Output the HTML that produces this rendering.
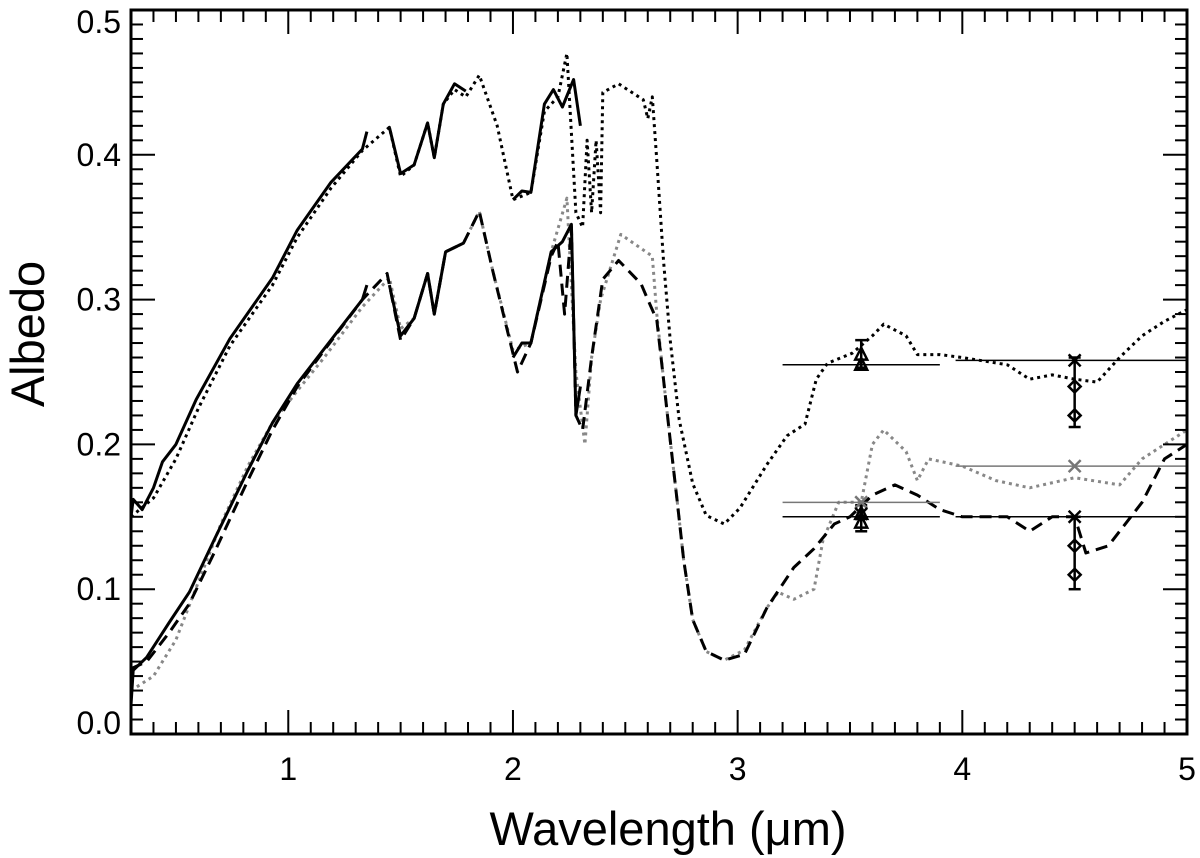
<!DOCTYPE html>
<html><head><meta charset="utf-8"><style>
body{margin:0;background:#fff}
svg{display:block;font-family:"Liberation Sans",Helvetica,sans-serif}
</style></head><body>
<svg id="chart" width="1200" height="858" viewBox="0 0 1200 858">
<g id="marks"></g>
<g id="axes"></g>
<text x="668" y="845" text-anchor="middle" font-size="47">Wavelength (μm)</text>
<text transform="translate(44,334) rotate(-90)" text-anchor="middle" font-size="47">Albedo</text>
</svg>
<script>
const xTicks=[1,2,3,4,5];
const yTicks=[0.0,0.1,0.2,0.3,0.4,0.5];
const upperObs=[[0.3,0.15],[0.31,0.162],[0.35,0.155],[0.4,0.17],[0.44,0.188],[0.5,0.2],[0.59,0.231],[0.74,0.273],[0.93,0.315],[1.04,0.348],[1.19,0.381],[1.33,0.404],[1.35,0.416],null,[1.45,0.419],[1.5,0.387],[1.56,0.393],[1.62,0.422],[1.65,0.398],[1.69,0.435],[1.74,0.449],[1.79,0.444],null,[2.0,0.369],[2.04,0.375],[2.08,0.374],[2.14,0.435],[2.18,0.445],[2.22,0.433],[2.27,0.452],[2.3,0.42]];
const upperModel=[[0.3,0.15],[0.4,0.163],[0.5,0.19],[0.6,0.225],[0.74,0.268],[0.93,0.31],[1.04,0.343],[1.19,0.377],[1.33,0.403],[1.45,0.419],[1.5,0.385],[1.56,0.393],[1.62,0.422],[1.65,0.398],[1.69,0.435],[1.74,0.445],[1.79,0.44],[1.85,0.455],[1.93,0.42],[2.0,0.369],[2.08,0.374],[2.14,0.43],[2.2,0.44],[2.24,0.47],[2.28,0.36],[2.31,0.35],[2.33,0.41],[2.35,0.36],[2.37,0.41],[2.39,0.36],[2.4,0.443],[2.47,0.449],[2.58,0.438],[2.6,0.425],[2.62,0.44],[2.64,0.396],[2.67,0.327],[2.7,0.272],[2.74,0.217],[2.8,0.173],[2.86,0.151],[2.94,0.145],[3.01,0.156],[3.13,0.186],[3.22,0.206],[3.3,0.214],[3.35,0.245],[3.4,0.256],[3.51,0.263],[3.6,0.275],[3.65,0.283],[3.75,0.275],[3.8,0.262],[3.9,0.262],[4.0,0.26],[4.2,0.255],[4.3,0.245],[4.4,0.248],[4.5,0.245],[4.6,0.243],[4.7,0.26],[4.8,0.275],[4.9,0.285],[5.0,0.293]];
const lowerObs=[[0.3,0.02],[0.31,0.044],[0.37,0.053],[0.47,0.077],[0.56,0.098],[0.67,0.134],[0.82,0.182],[0.93,0.215],[1.04,0.242],[1.16,0.266],[1.33,0.3],[1.35,0.31],null,[1.45,0.31],[1.5,0.275],[1.56,0.287],[1.62,0.318],[1.65,0.29],[1.7,0.333],[1.78,0.339],null,[2.0,0.26],[2.04,0.27],[2.08,0.27],[2.17,0.333],[2.22,0.34],[2.26,0.352],[2.28,0.22],[2.3,0.24]];
const lowerDashed=[[0.3,0.045],[0.37,0.05],[0.47,0.07],[0.56,0.09],[0.67,0.125],[0.82,0.175],[0.93,0.21],[1.04,0.24],[1.16,0.265],[1.33,0.3],[1.44,0.318],[1.5,0.272],[1.56,0.287],[1.62,0.318],[1.65,0.29],[1.7,0.333],[1.78,0.339],[1.85,0.361],[1.91,0.32],[2.02,0.25],[2.08,0.27],[2.17,0.33],[2.2,0.34],[2.23,0.29],[2.26,0.35],[2.28,0.22],[2.31,0.21],[2.35,0.26],[2.4,0.314],[2.47,0.327],[2.57,0.311],[2.6,0.3],[2.64,0.286],[2.67,0.245],[2.7,0.203],[2.73,0.162],[2.76,0.12],[2.8,0.079],[2.86,0.057],[2.94,0.051],[3.03,0.055],[3.13,0.087],[3.25,0.115],[3.34,0.128],[3.43,0.145],[3.5,0.15],[3.6,0.165],[3.7,0.172],[3.8,0.165],[3.9,0.155],[4.0,0.15],[4.2,0.15],[4.3,0.14],[4.4,0.15],[4.5,0.15],[4.55,0.125],[4.65,0.13],[4.8,0.16],[4.9,0.19],[5.0,0.2]];
const lowerGray=[[0.3,0.03],[0.4,0.04],[0.5,0.065],[0.6,0.105],[0.7,0.145],[0.82,0.185],[0.93,0.215],[1.04,0.237],[1.16,0.26],[1.33,0.295],[1.45,0.315],[1.5,0.28],[1.56,0.287],[1.62,0.318],[1.65,0.29],[1.7,0.333],[1.78,0.339],[1.85,0.361],[1.91,0.32],[2.0,0.265],[2.08,0.27],[2.17,0.333],[2.24,0.37],[2.28,0.25],[2.32,0.2],[2.35,0.26],[2.39,0.3],[2.48,0.345],[2.62,0.33],[2.64,0.29],[2.67,0.245],[2.7,0.203],[2.73,0.162],[2.76,0.12],[2.8,0.079],[2.86,0.057],[2.94,0.051],[3.03,0.058],[3.13,0.087],[3.18,0.098],[3.25,0.093],[3.34,0.1],[3.38,0.134],[3.45,0.16],[3.55,0.16],[3.6,0.2],[3.65,0.21],[3.75,0.195],[3.8,0.175],[3.85,0.19],[4.0,0.185],[4.15,0.175],[4.3,0.17],[4.5,0.177],[4.7,0.172],[4.8,0.19],[5.0,0.21]];
const bandLines=[[3.2,3.9,0.255,'#000'],[3.97,5,0.258,'#000'],[3.2,3.9,0.16,'#777'],[3.97,5,0.185,'#777'],[3.2,3.9,0.15,'#000'],[3.97,5,0.15,'#000']];
const errBars=[[3.55,0.253,0.272],[3.55,0.14,0.158],[4.5,0.212,0.26],[4.5,0.10,0.15]];
const triPts=[[3.55,0.262],[3.55,0.255],[3.55,0.152],[3.55,0.146]];
const crossPts=[[4.5,0.258,'#000'],[4.5,0.15,'#000'],[3.55,0.16,'#777'],[4.5,0.185,'#777'],[3.55,0.152,'#000']];
const diaPts=[[4.5,0.24],[4.5,0.22],[4.5,0.13],[4.5,0.11]];

const X0=131,X1=1187,Y0=734,Y1=10,xmin=0.3,xmax=5,ymax=0.5;
const sx=v=>X0+(v-xmin)/(xmax-xmin)*(X1-X0);
const sy=v=>Y0-v/ymax*(Y0-Y1);
const NS='http://www.w3.org/2000/svg';
const marks=document.getElementById('marks'),axes=document.getElementById('axes');
function mk(t,a,p){const e=document.createElementNS(NS,t);for(const k in a)e.setAttribute(k,a[k]);(p||marks).appendChild(e);return e;}
function pathOf(pts){let d='',m=true;for(const p of pts){if(!p){m=true;continue;}d+=(m?'M':'L')+sx(p[0]).toFixed(1)+','+sy(p[1]).toFixed(1);m=false;}return d;}
function series(pts,stroke,dash,w,name){const e=mk('path',{d:pathOf(pts),fill:'none',stroke:stroke,'stroke-width':w,'stroke-dasharray':dash,'stroke-linejoin':'round'});

}
series(upperModel,'#000','3 4','3','upper-model-dotted');
series(lowerGray,'#888','3 4','3','lower-model-gray-dotted');
series(lowerDashed,'#000','12 7','3','lower-model-dashed');
series(upperObs,'#000','','3','upper-observed');
series(lowerObs,'#000','','3','lower-observed');
for(const b of bandLines){const e=mk('line',{x1:sx(b[0]),x2:sx(b[1]),y1:sy(b[2]),y2:sy(b[2]),stroke:b[3],'stroke-width':1.5});

}
for(const b of errBars){const x=sx(b[0]);const g=mk('g',{stroke:'#000','stroke-width':2.5});


mk('line',{x1:x,x2:x,y1:sy(b[1]),y2:sy(b[2])},g);mk('line',{x1:x-6,x2:x+6,y1:sy(b[1]),y2:sy(b[1])},g);mk('line',{x1:x-6,x2:x+6,y1:sy(b[2]),y2:sy(b[2])},g);}
for(const p of triPts){const x=sx(p[0]),y=sy(p[1]);const e=mk('polygon',{points:`${x},${y-7} ${x-6},${y+5} ${x+6},${y+5}`,fill:'none',stroke:'#000','stroke-width':2.5});

}
for(const p of diaPts){const x=sx(p[0]),y=sy(p[1]);const e=mk('polygon',{points:`${x},${y-6} ${x+6},${y} ${x},${y+6} ${x-6},${y}`,fill:'none',stroke:'#000','stroke-width':2.5});

}
for(const p of crossPts){const x=sx(p[0]),y=sy(p[1]);const e=mk('path',{d:`M${x-6},${y-6}L${x+6},${y+6}M${x-6},${y+6}L${x+6},${y-6}`,stroke:p[2],'stroke-width':2.5});

}
const fr=mk('rect',{x:X0,y:Y1,width:X1-X0,height:Y0-Y1,fill:'none',stroke:'#000','stroke-width':3},axes);


for(let i=3;i<=50;i++){const v=i/10,x=sx(v),maj=i%10===0,L=maj?24:12;
mk('line',{x1:x,x2:x,y1:Y0,y2:Y0-L,stroke:'#000','stroke-width':2},axes);mk('line',{x1:x,x2:x,y1:Y1,y2:Y1+L,stroke:'#000','stroke-width':2},axes);}
for(let i=0;i<=50;i++){const y=sy(i/100),maj=i%10===0,L=maj?24:12;
mk('line',{x1:X0,x2:X0+L,y1:y,y2:y,stroke:'#000','stroke-width':2},axes);mk('line',{x1:X1,x2:X1-L,y1:y,y2:y,stroke:'#000','stroke-width':2},axes);}
for(const t of xTicks){const e=mk('text',{x:sx(t),y:Y0+46,'text-anchor':'middle','font-size':32},axes);e.textContent=String(t);

}
for(const t of yTicks){let y=sy(t)+11;if(t===0)y=734;if(t===0.5)y=33;const e=mk('text',{x:X0-10,y:y,'text-anchor':'end','font-size':32},axes);e.textContent=t.toFixed(1);

}
</script>
</body></html>
